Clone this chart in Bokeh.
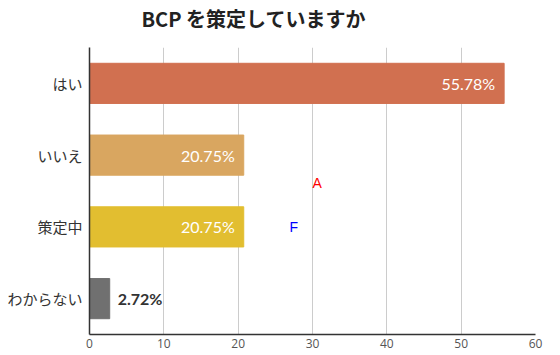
from bokeh.plotting import figure
from bokeh.models import Label, Title, ColumnDataSource, FixedTicker
from bokeh.embed import file_html
from bokeh.resources import INLINE
from bokeh.core.properties import value

title_text = "BCP を策定していますか"
categories = ["はい", "いいえ", "策定中", "わからない"]
percents = [55.78, 20.75, 20.75, 2.72]
colors = ["#D17050", "#D9A660", "#E2BE30", "#707070"]
x_ticks = [0, 10, 20, 30, 40, 50, 60]
unit_label = "(%)"

JP = "Noto Sans CJK JP"
NUM = "Lato"

p = figure(width=560, height=355, y_range=list(reversed(categories)),
           x_range=(0, 60), output_backend="svg", toolbar_location=None,
           min_border_left=89, min_border_right=25, min_border_top=47,
           min_border_bottom=21)
p.outline_line_color = None
p.background_fill_color = "white"
p.border_fill_color = "white"

labels = [f"{v:.2f}%" for v in percents]
src = ColumnDataSource(dict(cat=categories, val=percents, color=colors, label=labels))
p.hbar(y="cat", right="val", left=0, height=0.56, color="color", source=src)

inside = [i for i, v in enumerate(percents) if v >= 10]
outside = [i for i, v in enumerate(percents) if v < 10]
src_in = ColumnDataSource(dict(cat=[categories[i] for i in inside],
                               val=[percents[i] for i in inside],
                               label=[labels[i] for i in inside]))
src_out = ColumnDataSource(dict(cat=[categories[i] for i in outside],
                                val=[percents[i] for i in outside],
                                label=[labels[i] for i in outside]))
p.text(x="val", y="cat", text="label", source=src_in, x_offset=-9,
       text_align="right", text_baseline="middle", text_color="white",
       text_font=value(NUM), text_font_size="16px")
p.text(x="val", y="cat", text="label", source=src_out, x_offset=8,
       text_align="left", text_baseline="middle", text_color="#333333",
       text_font=value(NUM), text_font_size="16px", text_font_style="bold")

# axes
p.xaxis.ticker = FixedTicker(ticks=x_ticks)
p.xaxis.axis_line_color = "#333333"
p.xaxis.axis_line_width = 1.5
p.xaxis.major_tick_line_color = None
p.xaxis.major_tick_out = 0
p.xaxis.major_tick_in = 0
p.xaxis.minor_tick_line_color = None
p.xaxis.major_label_text_font = "Open Sans"
p.xaxis.major_label_text_font_size = "12px"
p.xaxis.major_label_text_color = "#555555"
p.xaxis.major_label_standoff = 4

p.yaxis.axis_line_color = "#333333"
p.yaxis.axis_line_width = 1.5
p.yaxis.major_tick_line_color = None
p.yaxis.major_tick_out = 0
p.yaxis.major_tick_in = 0
p.yaxis.minor_tick_line_color = None
p.yaxis.major_label_text_font = JP
p.yaxis.major_label_text_font_size = "15px"
p.yaxis.major_label_text_color = "#333333"
p.yaxis.major_label_standoff = 7

p.ygrid.grid_line_color = None
p.xgrid.grid_line_color = "#cccccc"
p.xgrid.grid_line_width = 1

# diagnostic labels
p.add_layout(Label(x=30, y=2, text="A", text_font_size="14px", text_color="red"))
p.add_layout(Label(x=60, y=0, x_offset=10, y_offset=-14, text="B",
                   text_font_size="10px", text_color="red"))
p.add_layout(Label(x=545, y=7, x_units="screen", y_units="screen", text="C",
                   text_font_size="10px", text_color="red"))
p.add_layout(Label(x=456, y=-14, x_units="screen", y_units="screen", text="D",
                   text_font_size="10px", text_color="red"))
p.add_layout(Label(x=520, y=330, x_units="screen", y_units="screen", text="E",
                   text_font_size="10px", text_color="red"))
p.add_layout(Label(x=200, y=100, x_units="screen", y_units="screen", text="F",
                   text_font_size="14px", text_color="blue"))

spacer = Title(text=" ", text_font_size="1px", standoff=12)
p.add_layout(spacer, "above")
t = Title(text=title_text, align="left", offset=52, text_font=JP,
          text_font_size="20px", text_color="#222222", text_font_style="bold",
          standoff=0)
p.add_layout(t, "above")

open("out.html", "w").write(file_html(p, INLINE))
